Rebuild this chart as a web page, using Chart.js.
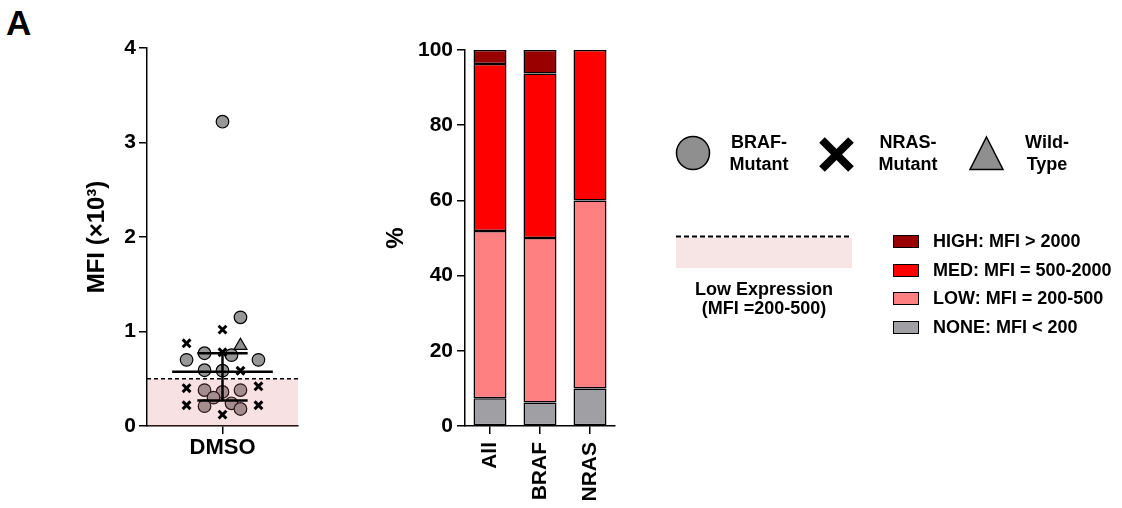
<!DOCTYPE html>
<html>
<head>
<meta charset="utf-8">
<script src="https://cdn.jsdelivr.net/npm/chart.js@4.4.0/dist/chart.umd.min.js"></script>
<style>
  body { margin: 0; background: #fff; width: 1122px; height: 508px; position: relative; overflow: hidden;
         font-family: 'Liberation Sans', Arial, sans-serif; font-weight: bold; color: #000; }
  canvas { position: absolute; top: 0; }
  .txt { position: absolute; white-space: nowrap; line-height: 22px; font-size: 18px; }
  .swatch { position: absolute; width: 24px; height: 11px; border: 1px solid #000; }
</style>
</head>
<body>
<div class="txt" style="left:6px; top:1px; font-size:35px; line-height:44px;">A</div>

<canvas id="mfiChart" width="320" height="508" style="left:0px;"></canvas>
<canvas id="pctChart" width="300" height="508" style="left:330px;"></canvas>

<!-- mutation legend -->
<svg style="position:absolute; left:0; top:0;" width="1122" height="508">
  <circle cx="693" cy="153" r="16.5" fill="#8f8f8f" stroke="#000" stroke-width="1.5"/>
  <line x1="822" y1="140" x2="851" y2="169" stroke="#000" stroke-width="8"/>
  <line x1="851" y1="140" x2="822" y2="169" stroke="#000" stroke-width="8"/>
  <polygon points="986.5,137 1003,169.5 970,169.5" fill="#8f8f8f" stroke="#000" stroke-width="1.5"/>
  <line x1="676" y1="236.5" x2="852" y2="236.5" stroke="#000" stroke-width="2" stroke-dasharray="5,3"/>
  <rect x="676" y="238" width="176" height="30" fill="#f7e4e4"/>
</svg>
<div class="txt" style="left:722px; top:131px; width:74px; text-align:center;">BRAF-<br>Mutant</div>
<div class="txt" style="left:870px; top:131px; width:76px; text-align:center;">NRAS-<br>Mutant</div>
<div class="txt" style="left:1010px; top:131px; width:74px; text-align:center;">Wild-<br>Type</div>
<div class="txt" style="left:664px; top:280px; width:200px; text-align:center; line-height:19px;">Low Expression<br>(MFI =200-500)</div>

<div id="barLegend"></div>

<script>
// ---- data: MFI scatter (x = jitter column, y = MFI x10^3) ----
const brafX = [0, 1, -1, -2, 0.5, 2, -1, 0, -1, 0, 1, -0.5, -1, 0.5, 1];
const brafY = [3.22, 1.15, 0.77, 0.70, 0.75, 0.70, 0.59, 0.585, 0.38, 0.36, 0.38, 0.30, 0.21, 0.24, 0.18];
const nrasX = [0, -2, 0, 1, -2, 2, -2, 2, 0];
const nrasY = [1.02, 0.875, 0.78, 0.585, 0.40, 0.42, 0.22, 0.22, 0.12];
const wtX = [1];
const wtY = [0.85];
const median = 0.575;
const q1 = 0.27;
const q3 = 0.77;
const lowThreshold = 0.5;
const mfiTicks = [0, 1, 2, 3, 4];

// ---- data: expression categories (%) ----
const groups = ['All', 'BRAF', 'NRAS'];
const nonePct = [7.4, 6.25, 10];
const lowPct = [44.45, 43.75, 50];
const medPct = [44.45, 43.75, 40];
const highPct = [3.7, 6.25, 0];
const pctTicks = [0, 20, 40, 60, 80, 100];

const levelNames = ['HIGH: MFI > 2000', 'MED: MFI = 500-2000', 'LOW: MFI = 200-500', 'NONE: MFI < 200'];
const levelColors = ['#990000', '#ff0000', '#ff8080', '#a0a0a4'];

Chart.defaults.font.family = "'Liberation Sans', Arial, sans-serif";
Chart.defaults.font.weight = 'bold';
Chart.defaults.color = '#000';

const toPts = (xs, ys) => xs.map((x, i) => ({ x: x, y: ys[i] }));

// pink "low expression" band + dashed cutoff, drawn right after the circles
const bandPlugin = {
    id: 'band',
    afterDatasetDraw(chart, args) {
        if (args.index !== 3) return;
        const { ctx, chartArea, scales } = chart;
        const yTop = scales.y.getPixelForValue(lowThreshold);
        const yBot = scales.y.getPixelForValue(0);
        ctx.save();
        ctx.fillStyle = 'rgba(215,105,110,0.2)';
        ctx.fillRect(chartArea.left + 1, yTop, chartArea.right - chartArea.left - 1, yBot - yTop);
        ctx.strokeStyle = '#000';
        ctx.lineWidth = 1.5;
        ctx.setLineDash([4, 3]);
        ctx.beginPath();
        ctx.moveTo(chartArea.left, yTop);
        ctx.lineTo(chartArea.right, yTop);
        ctx.stroke();
        ctx.restore();
    }
};

const lineDs = (pts) => ({
    type: 'line', data: pts, borderColor: '#000', borderWidth: 2.5,
    pointRadius: 0, showLine: true, fill: false, order: 0
});

new Chart(document.getElementById('mfiChart'), {
    type: 'scatter',
    data: {
        datasets: [
            { label: 'NRAS-Mutant', data: toPts(nrasX, nrasY), pointStyle: 'crossRot', pointRadius: 5.5,
              borderColor: '#000', borderWidth: 3, order: 1 },
            { label: 'Wild-Type', data: toPts(wtX, wtY), pointStyle: 'triangle', pointRadius: 7.5,
              backgroundColor: '#909090', borderColor: '#000', borderWidth: 1.2, order: 2 },
            lineDs([{ x: -2.8, y: median }, { x: 2.8, y: median }]),
            { label: 'BRAF-Mutant', data: toPts(brafX, brafY), pointStyle: 'circle', pointRadius: 6.3,
              backgroundColor: '#979797', borderColor: '#000', borderWidth: 1.2, order: 3 },
            lineDs([{ x: -1.4, y: q3 }, { x: 1.4, y: q3 }]),
            lineDs([{ x: -1.4, y: q1 }, { x: 1.4, y: q1 }]),
            lineDs([{ x: 0, y: q1 }, { x: 0, y: q3 }])
        ]
    },
    options: {
        responsive: false,
        animation: false,
        layout: { padding: { left: 83, right: 22, top: 48, bottom: 0 } },
        plugins: { legend: { display: false }, tooltip: { enabled: false } },
        scales: {
            x: {
                type: 'linear', min: -4.2, max: 4.2,
                afterBuildTicks: (s) => { s.ticks = [{ value: 0 }]; },
                afterFit: (s) => { s.height = 82; },
                ticks: { callback: () => 'DMSO', font: { size: 22 }, padding: 1, maxRotation: 0 },
                grid: { drawOnChartArea: false, color: '#000', lineWidth: 1.5, tickLength: 8 },
                border: { color: '#000', width: 1.5 }
            },
            y: {
                min: 0, max: 4,
                afterBuildTicks: (s) => { s.ticks = mfiTicks.map(v => ({ value: v })); },
                afterFit: (s) => { s.width = 64; },
                ticks: { font: { size: 21 }, padding: 3 },
                grid: { drawOnChartArea: false, color: '#000', lineWidth: 1.5, tickLength: 8 },
                border: { color: '#000', width: 1.5 },
                title: { display: true, text: 'MFI (×10³)', font: { size: 24 }, padding: 0 }
            }
        }
    },
    plugins: [bandPlugin]
});

const barDs = (label, data, color) => ({
    label: label, data: data, backgroundColor: color, borderColor: '#000',
    borderWidth: 1.5, borderSkipped: false, barPercentage: 1, categoryPercentage: 0.66
});

new Chart(document.getElementById('pctChart'), {
    type: 'bar',
    data: {
        labels: groups,
        datasets: [
            barDs('NONE', nonePct, levelColors[3]),
            barDs('LOW', lowPct, levelColors[2]),
            barDs('MED', medPct, levelColors[1]),
            barDs('HIGH', highPct, levelColors[0])
        ]
    },
    options: {
        responsive: false,
        animation: false,
        layout: { padding: { left: 52, right: 15, top: 50, bottom: 0 } },
        plugins: { legend: { display: false }, tooltip: { enabled: false } },
        scales: {
            x: {
                stacked: true,
                afterFit: (s) => { s.height = 82; },
                ticks: { font: { size: 21 }, minRotation: 90, maxRotation: 90, padding: 8 },
                grid: { offset: false, drawOnChartArea: false, color: '#000', lineWidth: 1.5, tickLength: 8 },
                border: { color: '#000', width: 1.5 }
            },
            y: {
                stacked: true, min: 0, max: 100,
                afterBuildTicks: (s) => { s.ticks = pctTicks.map(v => ({ value: v })); },
                afterFit: (s) => { s.width = 83; },
                ticks: { font: { size: 21 }, padding: 4 },
                grid: { drawOnChartArea: false, color: '#000', lineWidth: 1.5, tickLength: 8 },
                border: { color: '#000', width: 1.5 },
                title: { display: true, text: '%', font: { size: 24 }, padding: 0 }
            }
        }
    }
});

// level legend
const legendBox = document.getElementById('barLegend');
levelNames.forEach((name, i) => {
    const top = 235 + i * 28.5;
    const sw = document.createElement('div');
    sw.className = 'swatch';
    sw.style.left = '893px';
    sw.style.top = top + 'px';
    sw.style.background = levelColors[i];
    legendBox.appendChild(sw);
    const t = document.createElement('div');
    t.className = 'txt';
    t.style.left = '933px';
    t.style.top = (top - 5) + 'px';
    t.textContent = name;
    legendBox.appendChild(t);
});
</script>
</body>
</html>
